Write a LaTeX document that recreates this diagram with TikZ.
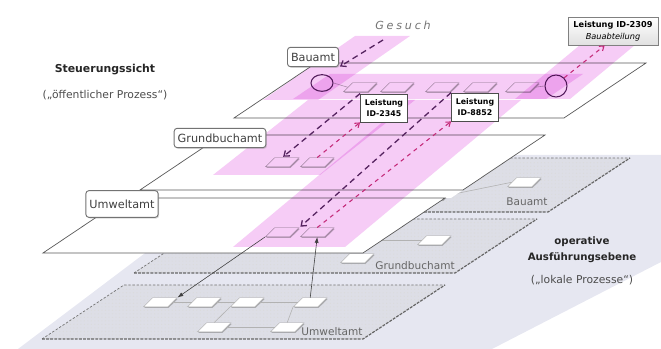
\documentclass[tikz,border=0pt]{standalone}
\usepackage{fontspec}
\setmainfont{DejaVu Sans}
\usepackage{tikz}
\usetikzlibrary{arrows.meta}
\usetikzlibrary{positioning}
\usetikzlibrary{shapes.geometric}
\usetikzlibrary{shadows,patterns}
\tikzset{>=latex}
\definecolor{bandblue}{RGB}{230,231,241}
\definecolor{layerfill}{RGB}{221,222,230}
\definecolor{rosa}{RGB}{246,204,246}
\definecolor{lila}{RGB}{85,35,95}
\definecolor{magent}{RGB}{196,40,120}
\tikzstyle{plane}=[draw=black!65, fill=white, line width=0.6pt]
\tikzstyle{opedge}=[black!55, line width=0.6pt, dash pattern=on 2pt off 1.5pt]
\tikzstyle{link}=[black!30, line width=0.5pt]
\tikzset{
  tile/.style={trapezium, trapezium left angle=40, trapezium right angle=140,
    trapezium stretches=true, minimum width=1cm, minimum height=0.27cm,
    text width=2pt, text height=1pt, text depth=0pt,
    inner sep=0pt, anchor=bottom left corner, draw=black!45, line width=0.4pt, fill=white,
    drop shadow={shadow xshift=0.6pt, shadow yshift=-1pt, opacity=0.55}},
  optile/.style={tile, fill=white, draw=black!35},
  kreis/.style={ellipse, draw=lila, line width=0.9pt, inner sep=0pt},
  amt/.style={draw=black!55, fill=white, rounded corners=2.5pt, inner xsep=3pt,
    minimum height=0.58cm, font=\fontsize{9.6}{11}\selectfont, text=black!75,
    drop shadow={shadow xshift=1pt, shadow yshift=-1pt, opacity=0.3}},
  lbox/.style={draw=black!70, fill=white, line width=0.7pt, align=center, inner sep=1.5pt,
    minimum width=1.41cm, minimum height=0.84cm, font=\bfseries\fontsize{6.7}{9}\selectfont,
    drop shadow={shadow xshift=0.8pt, shadow yshift=-0.8pt, opacity=0.3}},
  oplabel/.style={font=\fontsize{9}{10}\selectfont, text=black!60, inner sep=1pt},
  titel/.style={font=\bfseries\fontsize{8.7}{13.5}\selectfont, text=black!85},
  untertitel/.style={font=\fontsize{9.2}{10}\selectfont, text=black!70},
  darkarrow/.style={lila, line width=1.1pt, dash pattern=on 5pt off 3.5pt,
    -{Straight Barb[length=4pt,width=6pt]}, shorten >=1pt},
  pinkarrow/.style={magent, line width=0.9pt, dash pattern=on 3.5pt off 3.5pt,
    -{Straight Barb[length=3.5pt,width=5pt]}},
  solidarrow/.style={black!75, line width=0.5pt, -{Latex[length=5pt,width=3.5pt]}}
}

\begin{document}
\begin{tikzpicture}[x=0.03cm, y=-0.03cm, thick, >=latex]
\useasboundingbox (0,0) rectangle (661,349);

% background band
\fill[bandblue] (18,349) -- (275,155) -- (661,155) -- (661,262) -- (492,349) -- cycle;

% operative layers
\foreach \bx/\by in {227/212, 134/273, 42/339} {
  \fill[layerfill, postaction={pattern=dots, pattern color=black!14}]
    (\bx,\by) -- ++(321,0) -- ++(82,-54) -- ++(-321,0) -- cycle;
  \draw[opedge] (\bx,\by) -- ++(82,-54) -- ++(321,0);
  \draw[black!60, line width=1pt, dash pattern=on 2.5pt off 1pt]
    (\bx,\by) -- ++(321,0) -- ++(82,-54);
}

% tasks of the layers
\node[optile] (a1) at (418,200) {};
\node[optile] (a2) at (507,187) {};
\draw[link] (a1.east) -- (a2.west);
\node[optile] (b1) at (330,245) {};
\node[optile] (b2) at (417,245) {};
\node[optile] (b3) at (340,263) {};
\draw[link] (b1.east) -- (b2.west);
\node[optile] (u1) at (143,307) {};
\node[optile] (u2) at (187,307) {};
\node[optile] (u3) at (230,307) {};
\node[optile] (u4) at (293,307) {};
\node[optile] (u5) at (197,332) {};
\node[optile] (u6) at (270,332) {};
\draw[link] (u1.east) -- (u2.west);
\draw[link] (u2.east) -- (u3.west);
\draw[link] (u3.east) -- (u4.west);
\draw[link] (u3.bottom left corner) -- (u5.north);
\draw[link] (u4.bottom left corner) -- (u6.north);
\draw[link] (u5.east) -- (u6.west);

\node[oplabel] (opBau) at (527,202) {Bauamt};
\node[oplabel] (opGrund) at (415,266) {Grundbuchamt};
\node[oplabel] (opUmwelt) at (332,332) {Umweltamt};

% planes
\fill[white] (140,190) -- (463,190) -- (451,198) -- (127,198) -- cycle;
\foreach \bx/\by/\w in {234/118/330, 140/190/323, 43/253/320}
  \draw[plane] (\bx,\by) -- ++(\w,0) -- ++(82,-55) -- ++(-\w,0) -- cycle;

% tasks of the planes
\foreach \x [count=\i] in {343,380,425,463,505}
  \node[tile] (s\i) at (\x,92) {};
\node[tile] (g1) at (265,167) {};
\node[tile] (g2) at (300,167) {};
\node[tile] (w1) at (265,237) {};
\node[tile] (w2) at (300,237) {};
\node[kreis, minimum width=0.66cm, minimum height=0.5cm] (kreisA) at (322,83) {};
\node[kreis, minimum size=0.66cm] (kreisB) at (556,86) {};
\draw[link] (kreisA.east) -- (s1.west);
\draw[link] (s5.east) -- (kreisB.west);

% pink bands
\begin{scope}[blend mode=multiply]
  \fill[rosa] (355,36) -- (410,36) -- (318,100) -- (263,100) -- cycle;
  \fill[rosa] (293,99) -- (546,99) -- (583,74) -- (330,74) -- cycle;
  \fill[rosa] (515,99) -- (570,99) -- (635,45) -- (580,45) -- cycle;
  \fill[rosa] (213,175) -- (320,175) -- (415,100) -- (308,100) -- cycle;
  \fill[rosa] (233,247) -- (345,247) -- (521,100) -- (409,100) -- cycle;
\end{scope}

% labels
\node[amt] (lbBau) at (313,57) {Bauamt};
\node[amt] (lbGrund) at (220,138) {Grundbuchamt};
\node[amt, minimum height=0.8cm] (lbUmwelt) at (122,204) {Umweltamt};
\node[lbox] (l2345) at (384,108) {Leistung\\ID-2345};
\node[lbox] (l8852) at (475,107) {Leistung\\ID-8852};
\node[draw=black!50, top color=white, bottom color=black!12, align=center,
  minimum width=2.7cm, minimum height=0.84cm, inner sep=1pt,
  font=\fontsize{7}{10}\selectfont,
  drop shadow={shadow xshift=0.8pt, shadow yshift=-0.8pt, opacity=0.3}]
  (l2309) at (613,31) {\textbf{Leistung ID-2309}\\\textit{Bauabteilung}};

% arrows
\coordinate (gesuchStart) at (383,40);
\draw[darkarrow] (gesuchStart) -- (lbBau.south east);
\draw[pinkarrow] (kreisB.north east) -- (l2309.240);
\draw[darkarrow] (l2345.north west) -- (g1.north);
\draw[pinkarrow] (g2.north) -- (l2345.south west);
\draw[darkarrow] (l8852.north west) -- (w1.top right corner);
\draw[pinkarrow] (w2.north) -- (l8852.south west);
\draw[solidarrow] (w1.bottom left corner) -- (u1.top right corner);
\draw[solidarrow] (u4.north) -- (w2.south);

% texts
\node[titel, font=\bfseries\fontsize{9.3}{11}\selectfont] (steuer) at (105,70) {Steuerungssicht};
\node[untertitel, below=0.18cm of steuer] (oeff) {(„öffentlicher Prozess“)};
\node[titel, align=center] (operativ) at (582,250) {operative\\Ausführungsebene};
\node[untertitel, below=0.12cm of operativ] (lokal) {(„lokale Prozesse“)};
\node[font=\itshape\fontsize{9.5}{11}\selectfont\addfontfeature{LetterSpace=25}, text=black!55]
  (gesuch) at (403,25) {Gesuch};
\end{tikzpicture}
\end{document}
